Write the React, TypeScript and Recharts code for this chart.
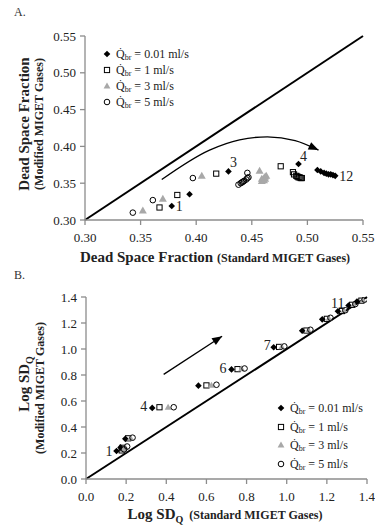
import React from "react";
import { ComposedChart, Scatter, Line, XAxis, YAxis, Legend, ReferenceLine } from "recharts";

const FONT = "'Liberation Serif', 'Times New Roman', serif";

// ---------- Chart A: Dead space fraction ----------
const aTicks = [0.3, 0.35, 0.4, 0.45, 0.5, 0.55];
const aDiamondX = [0.378, 0.394, 0.429, 0.492, 0.509, 0.512, 0.515, 0.517, 0.519, 0.521, 0.523, 0.525];
const aDiamondY = [0.319, 0.335, 0.366, 0.376, 0.368, 0.366, 0.364, 0.363, 0.362, 0.362, 0.361, 0.360];
const aSquareX = [0.367, 0.383, 0.418, 0.476, 0.487, 0.488, 0.490, 0.491, 0.492, 0.493, 0.494, 0.495];
const aSquareY = [0.317, 0.334, 0.363, 0.373, 0.365, 0.362, 0.360, 0.359, 0.358, 0.358, 0.357, 0.357];
const aTriX = [0.352, 0.370, 0.405, 0.457, 0.459, 0.460, 0.461, 0.462, 0.463, 0.459, 0.461, 0.462];
const aTriY = [0.313, 0.329, 0.360, 0.367, 0.353, 0.355, 0.357, 0.359, 0.360, 0.356, 0.354, 0.356];
const aCircX = [0.343, 0.361, 0.397, 0.438, 0.440, 0.441, 0.442, 0.443, 0.445, 0.446, 0.447, 0.446];
const aCircY = [0.310, 0.327, 0.357, 0.348, 0.350, 0.351, 0.352, 0.353, 0.355, 0.357, 0.358, 0.364];
const aLabels = ["1", "", "3", "4", "", "", "", "", "", "", "", "12"];
const aArrowX = [0.369, 0.412, 0.439, 0.464, 0.489, 0.510];
const aArrowY = [0.355, 0.395, 0.409, 0.413, 0.408, 0.395];
const aIdentity = [0.3, 0.55];

// ---------- Chart B: Log SDQ ----------
const bTicks = [0, 0.2, 0.4, 0.6, 0.8, 1.0, 1.2, 1.4];
const bDiamondX = [0.152, 0.172, 0.196, 0.330, 0.560, 0.725, 0.935, 1.077, 1.177, 1.255, 1.308, 1.350];
const bDiamondY = [0.215, 0.243, 0.309, 0.547, 0.718, 0.843, 1.013, 1.140, 1.228, 1.290, 1.335, 1.365];
const bSquareX = [0.178, 0.182, 0.210, 0.366, 0.600, 0.755, 0.962, 1.098, 1.200, 1.275, 1.326, 1.372];
const bSquareY = [0.220, 0.240, 0.313, 0.552, 0.720, 0.845, 1.016, 1.142, 1.232, 1.292, 1.340, 1.372];
const bTriX = [0.185, 0.195, 0.222, 0.409, 0.625, 0.775, 0.975, 1.108, 1.210, 1.285, 1.334, 1.380];
const bTriY = [0.225, 0.245, 0.316, 0.552, 0.722, 0.848, 1.018, 1.145, 1.236, 1.296, 1.343, 1.377];
const bCircX = [0.190, 0.205, 0.232, 0.437, 0.650, 0.790, 0.988, 1.118, 1.218, 1.292, 1.342, 1.388];
const bCircY = [0.228, 0.250, 0.318, 0.552, 0.725, 0.850, 1.020, 1.148, 1.240, 1.298, 1.346, 1.380];
const bLabels = ["1", "", "", "4", "", "6", "7", "", "", "", "11", ""];
const bArrowX = [0.387, 0.678];
const bArrowY = [0.805, 1.098];
const bIdentity = [0, 1.4];

const flowRates = ["0.01", "1", "3", "5"];
const markerKinds = ["diamond", "square", "triangle", "circle"];

type Pt = { x: number; y: number; lbl: string };
const zip = (xs: number[], ys: number[], lbls?: string[]): Pt[] =>
  xs.map((x, i) => ({ x, y: ys[i], lbl: lbls ? lbls[i] : "" }));

function Marker({ kind, cx, cy, big }: { kind: string; cx: number; cy: number; big?: boolean }) {
  if (kind === "diamond") {
    const d = 3.3;
    return <polygon points={`${cx},${cy - d} ${cx + d},${cy} ${cx},${cy + d} ${cx - d},${cy}`} fill="#000" />;
  }
  if (kind === "square") {
    const s = 2.6;
    return <rect x={cx - s} y={cy - s} width={2 * s} height={2 * s} fill="none" stroke="#000" strokeWidth={1} />;
  }
  if (kind === "triangle") {
    const t = big ? 4 : 3.4;
    return (
      <polygon
        points={`${cx},${cy - t} ${cx + t},${cy + t * 0.75} ${cx - t},${cy + t * 0.75}`}
        fill="#a8a8a8"
      />
    );
  }
  return <circle cx={cx} cy={cy} r={2.8} fill="none" stroke="#000" strokeWidth={1} />;
}

const makeShape =
  (kind: string, offsets?: Record<string, [number, number]>, anchor?: string, big?: boolean) =>
  (p: any) => {
    const lbl = p.payload && p.payload.lbl;
    const off = offsets && lbl ? offsets[lbl] : undefined;
    return (
      <g>
        <Marker kind={kind} cx={p.cx} cy={p.cy} big={big} />
        {off ? (
          <text
            x={p.cx + off[0]}
            y={p.cy + off[1]}
            textAnchor={anchor as any}
            fontFamily={FONT}
            fontSize={14}
            fill="#222"
          >
            {lbl}
          </text>
        ) : null}
      </g>
    );
  };

const arrowDot = (angle: number, lastIndex: number) => (p: any) => {
  if (p.index !== lastIndex) return <g key={`d${p.index}`} />;
  return (
    <polygon
      key="arrowhead"
      points="0,0 -10,-4 -10,4"
      transform={`translate(${p.cx},${p.cy}) rotate(${angle})`}
      fill="#000"
    />
  );
};

function LegendBox({ rowH }: { rowH: number }) {
  return (
    <div style={{ fontFamily: FONT, fontSize: 12, color: "#222" }}>
      {flowRates.map((r, i) => (
        <div key={r} style={{ display: "flex", alignItems: "center", height: rowH, whiteSpace: "nowrap" }}>
          <svg width={10} height={10} style={{ marginRight: 4, flex: "none" }}>
            <Marker kind={markerKinds[i]} cx={5} cy={5} />
          </svg>
          <span style={{ lineHeight: 1 }}>
            Q{"\u0307"}
            <span style={{ fontSize: 8, position: "relative", top: 2 }}>br</span> = {r} ml/s
          </span>
        </div>
      ))}
    </div>
  );
}

const axisStroke = "#8c8c8c";
const tickStyle = { fontFamily: FONT, fontSize: 13, fill: "#222" };

const aOffsets: Record<string, [number, number]> = { "1": [4, 5], "3": [1.5, -4], "4": [1.5, -3], "12": [4, 5] };
const bOffsets: Record<string, [number, number]> = { "1": [-4, 5], "4": [-5, 3], "6": [-5, 4], "7": [-3, 3], "11": [-4, 3] };

export default function App() {
  const aSeries = [zip(aDiamondX, aDiamondY, aLabels), zip(aSquareX, aSquareY), zip(aTriX, aTriY), zip(aCircX, aCircY)];
  const bSeries = [zip(bDiamondX, bDiamondY, bLabels), zip(bSquareX, bSquareY), zip(bTriX, bTriY), zip(bCircX, bCircY)];
  const aArrow = zip(aArrowX, aArrowY);
  const bArrow = zip(bArrowX, bArrowY);

  return (
    <div style={{ position: "absolute", left: 0, top: 0, width: 375, height: 531, background: "#fff", fontFamily: FONT }}>
      <div style={{ position: "absolute", left: 14, top: 5, fontSize: 12, color: "#333" }}>A.</div>
      <div style={{ position: "absolute", left: 14, top: 268, fontSize: 12, color: "#333" }}>B.</div>

      <div style={{ position: "absolute", left: 0, top: 0 }}>
        <ComposedChart width={375} height={265} margin={{ top: 36, right: 12, left: 0, bottom: 0 }}>
          <XAxis
            type="number"
            dataKey="x"
            domain={[0.3, 0.55]}
            ticks={aTicks}
            tickFormatter={(v: number) => v.toFixed(2)}
            height={45}
            stroke={axisStroke}
            strokeWidth={1.3}
            tick={tickStyle}
            tickSize={5}
            tickMargin={8}
            allowDataOverflow
            label={{
              content: () => (
                <text x={215} y={262} textAnchor="middle" fontFamily={FONT} fontWeight="bold" fill="#222">
                  <tspan fontSize={15}>Dead Space Fraction </tspan>
                  <tspan fontSize={12}>(Standard MIGET Gases)</tspan>
                </text>
              ),
            }}
          />
          <YAxis
            type="number"
            dataKey="y"
            domain={[0.3, 0.55]}
            ticks={aTicks}
            tickFormatter={(v: number) => v.toFixed(2)}
            width={85}
            stroke={axisStroke}
            strokeWidth={1.3}
            tick={tickStyle}
            tickSize={5}
            tickMargin={4}
            allowDataOverflow
            label={{
              content: () => (
                <g fontFamily={FONT} fontWeight="bold" fill="#222">
                  <text transform="translate(29,124) rotate(-90)" textAnchor="middle" fontSize={15}>
                    Dead Space Fraction
                  </text>
                  <text transform="translate(43,124) rotate(-90)" textAnchor="middle" fontSize={12}>
                    (Modified MIGET Gases)
                  </text>
                </g>
              ),
            }}
          />
          <ReferenceLine
            segment={[
              { x: aIdentity[0], y: aIdentity[0] },
              { x: aIdentity[1], y: aIdentity[1] },
            ]}
            stroke="#000"
            strokeWidth={2}
          />
          <Line
            data={aArrow}
            dataKey="y"
            type="monotone"
            stroke="#000"
            strokeWidth={1.3}
            dot={arrowDot(25, aArrow.length - 1)}
            activeDot={false}
            isAnimationActive={false}
            legendType="none"
          />
          {aSeries.map((d, i) => (
            <Scatter
              key={i}
              name={`Q br = ${flowRates[i]} ml/s`}
              data={d}
              dataKey="y"
              shape={makeShape(markerKinds[i], i === 0 ? aOffsets : undefined, "start", true)}
              isAnimationActive={false}
            />
          ))}
          <Legend
            layout="vertical"
            align="center"
            verticalAlign="middle"
            wrapperStyle={{ top: 46, left: 102, width: 160, height: 68 }}
            content={() => <LegendBox rowH={16} />}
          />
        </ComposedChart>
      </div>

      <div style={{ position: "absolute", left: 0, top: 265 }}>
        <ComposedChart width={375} height={266} margin={{ top: 32, right: 8, left: 0, bottom: 0 }}>
          <XAxis
            type="number"
            dataKey="x"
            domain={[0, 1.4]}
            ticks={bTicks}
            tickFormatter={(v: number) => v.toFixed(1)}
            height={52}
            stroke={axisStroke}
            strokeWidth={1.3}
            tick={tickStyle}
            tickSize={5}
            tickMargin={8}
            allowDataOverflow
            label={{
              content: () => (
                <text x={225} y={254} textAnchor="middle" fontFamily={FONT} fontWeight="bold" fill="#222">
                  <tspan fontSize={15}>Log SD</tspan>
                  <tspan fontSize={10} dy={4}>Q</tspan>
                  <tspan fontSize={12} dy={-4}>{"\u00a0\u00a0(Standard MIGET Gases)"}</tspan>
                </text>
              ),
            }}
          />
          <YAxis
            type="number"
            dataKey="y"
            domain={[0, 1.4]}
            ticks={bTicks}
            tickFormatter={(v: number) => v.toFixed(1)}
            width={86}
            stroke={axisStroke}
            strokeWidth={1.3}
            tick={tickStyle}
            tickSize={5}
            tickMargin={4}
            allowDataOverflow
            label={{
              content: () => (
                <g fontFamily={FONT} fontWeight="bold" fill="#222">
                  <text transform="translate(29,119) rotate(-90)" textAnchor="middle" fontSize={15}>
                    Log SD<tspan fontSize={10} dy={4}>Q</tspan>
                  </text>
                  <text transform="translate(44,123) rotate(-90)" textAnchor="middle" fontSize={12}>
                    (Modified MIGET Gases)
                  </text>
                </g>
              ),
            }}
          />
          <ReferenceLine
            segment={[
              { x: bIdentity[0], y: bIdentity[0] },
              { x: bIdentity[1], y: bIdentity[1] },
            ]}
            stroke="#000"
            strokeWidth={2}
          />
          <Line
            data={bArrow}
            dataKey="y"
            type="linear"
            stroke="#000"
            strokeWidth={1.3}
            dot={arrowDot(-33, bArrow.length - 1)}
            activeDot={false}
            isAnimationActive={false}
            legendType="none"
          />
          {bSeries.map((d, i) => (
            <Scatter
              key={i}
              name={`Q br = ${flowRates[i]} ml/s`}
              data={d}
              dataKey="y"
              shape={makeShape(markerKinds[i], i === 0 ? bOffsets : undefined, "end", false)}
              isAnimationActive={false}
            />
          ))}
          <Legend
            layout="vertical"
            align="center"
            verticalAlign="middle"
            wrapperStyle={{ top: 134, left: 276, width: 100, height: 76 }}
            content={() => <LegendBox rowH={18.5} />}
          />
        </ComposedChart>
      </div>
    </div>
  );
}
